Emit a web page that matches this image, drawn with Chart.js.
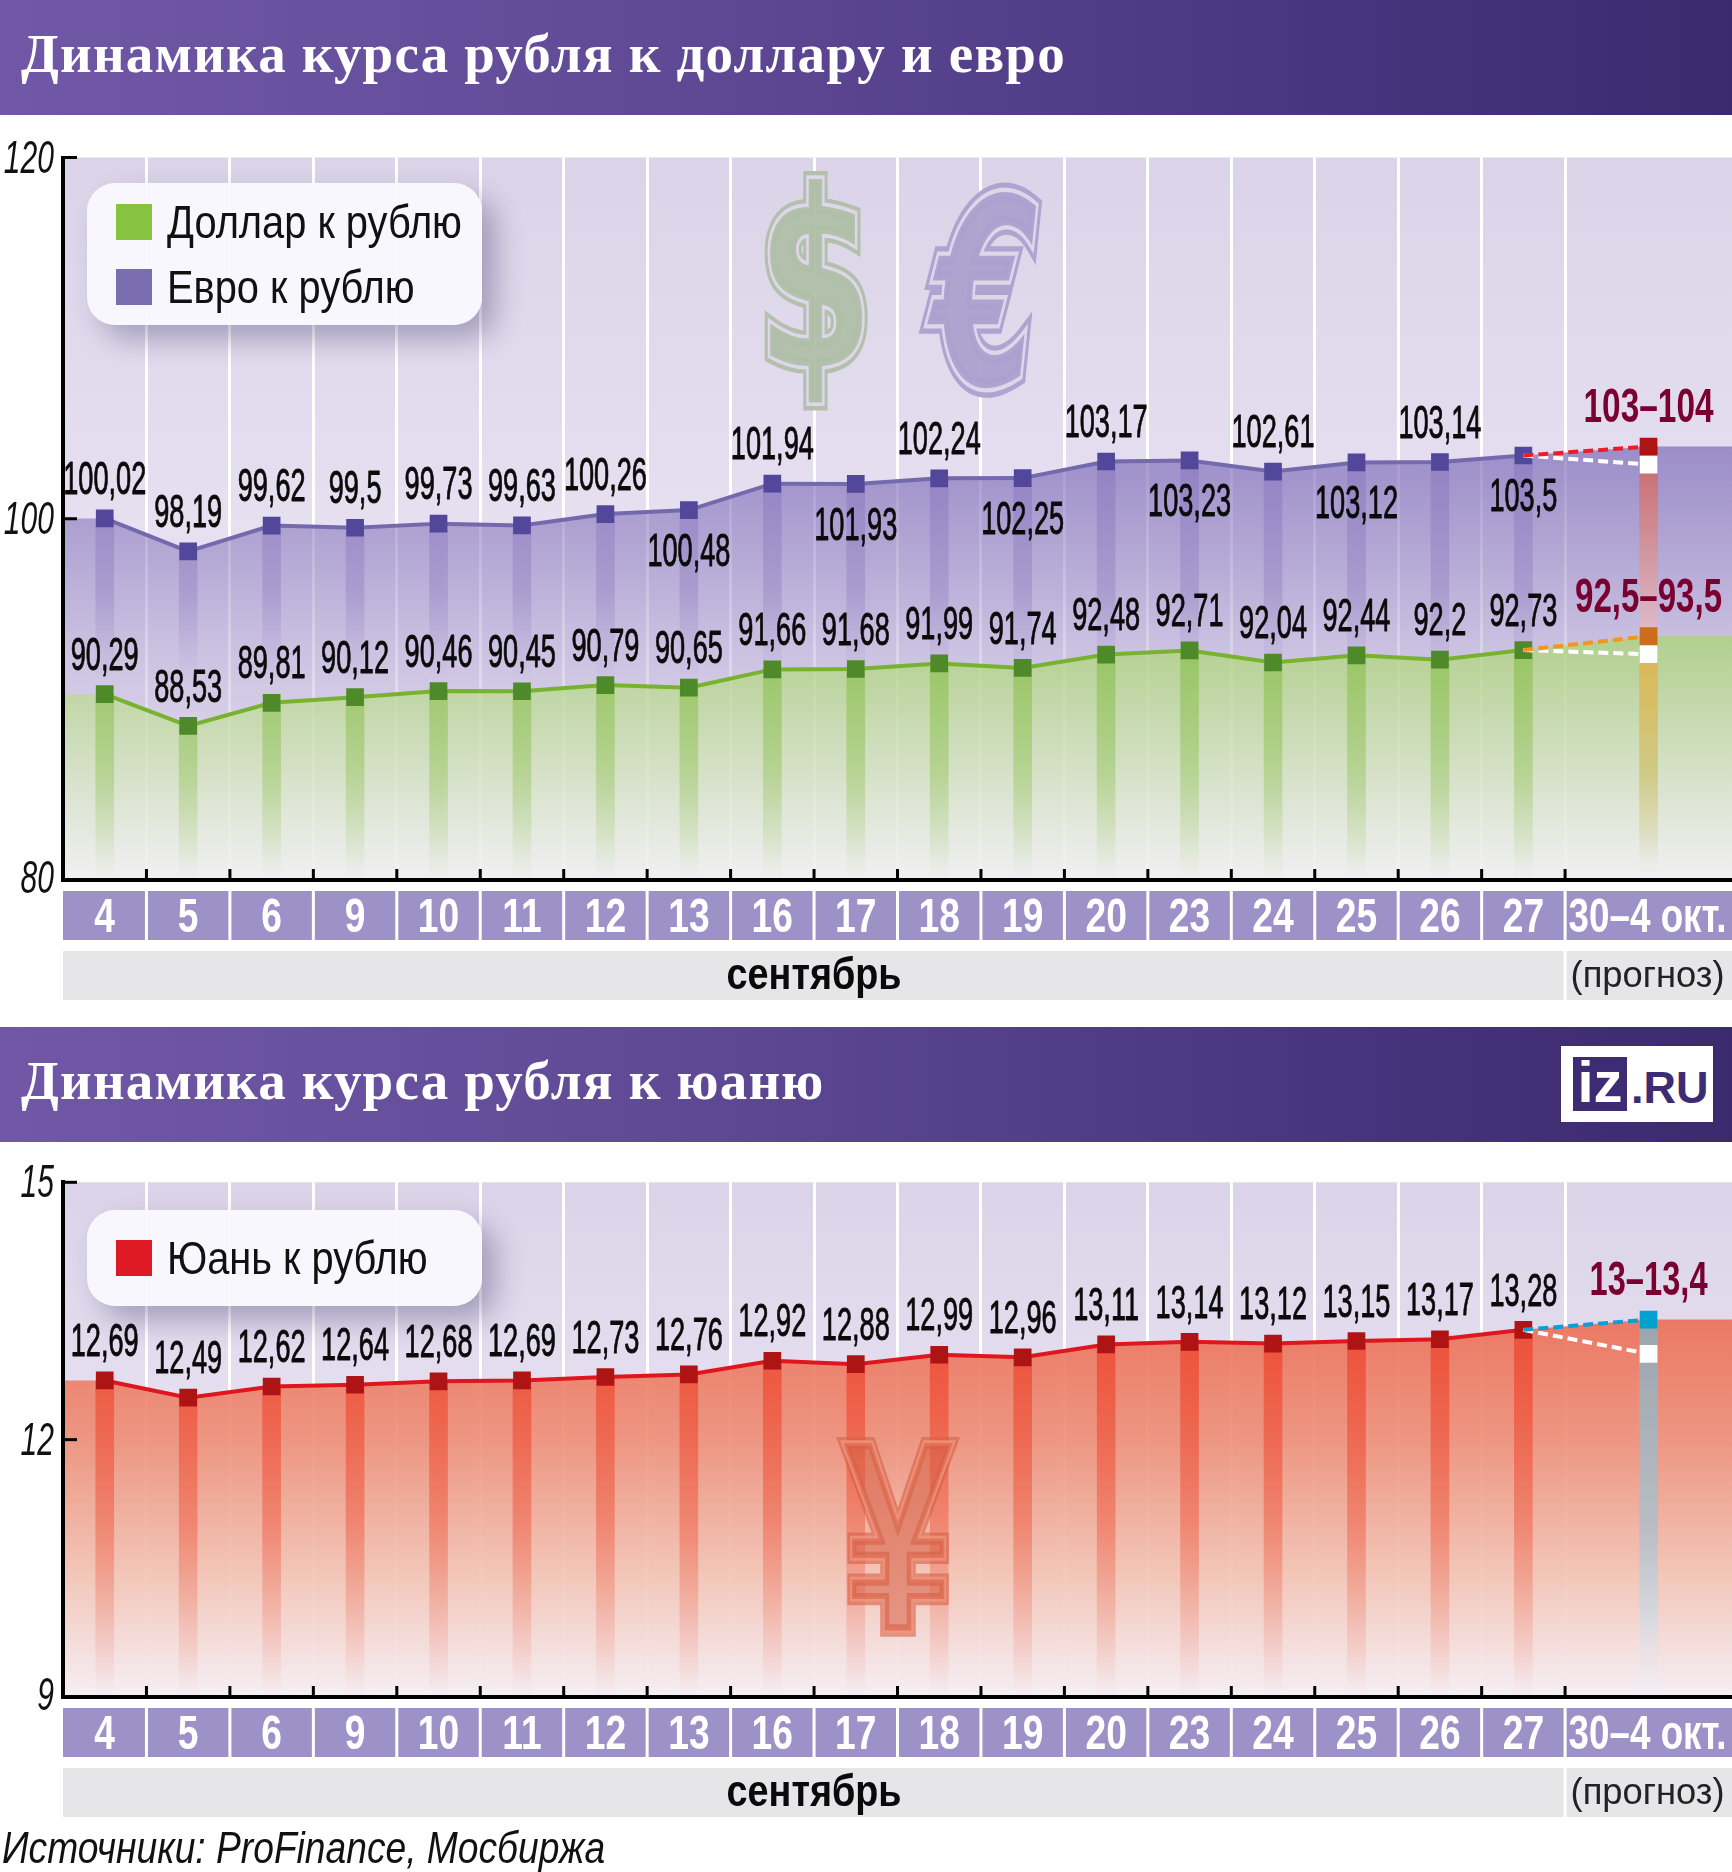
<!DOCTYPE html>
<html lang="ru"><head><meta charset="utf-8">
<script src="https://cdn.jsdelivr.net/npm/chart.js@4/dist/chart.umd.js"></script>
<style>
html,body{margin:0;padding:0;background:#fff;width:1732px;height:1872px;overflow:hidden}
.hdr{position:absolute;left:0;width:1732px;height:115px;background:linear-gradient(90deg,#7058a6 0%,#5f4995 40%,#4a3580 75%,#3b2a6e 100%);color:#fff;font:bold 55px "Liberation Serif",serif;line-height:108px}
.hdr span{position:absolute;left:21px;top:0;white-space:nowrap;letter-spacing:1.2px}
canvas{position:absolute;left:0}
.legend{position:absolute;left:87px;width:395px;background:rgba(249,248,253,.96);border-radius:28px;box-shadow:14px 14px 28px rgba(50,40,90,.33)}
.row{position:absolute;left:29px;height:36px;width:360px}
.sw{position:absolute;left:0;top:0;width:36px;height:36px}
.lt{position:absolute;left:51px;top:-10px;font:46px "Liberation Sans Narrow","Liberation Sans",sans-serif;line-height:56px;white-space:nowrap;color:#111;transform-origin:0 50%;transform:scaleX(.865)}
#src{position:absolute;left:2px;top:1821px;font:italic 44px "Liberation Sans Narrow","Liberation Sans",sans-serif;line-height:54px;white-space:nowrap;color:#111;transform-origin:0 50%;transform:scaleX(.845)}
#logo{position:absolute;left:1561px;top:1046px;width:152px;height:76px;background:#fff}
#logo .sq{position:absolute;left:12px;top:11px;width:54px;height:54px;background:#3d2c73;color:#fff;font:bold 58px "Liberation Sans",sans-serif;line-height:50px;text-align:center;overflow:hidden}
#logo .ru{position:absolute;left:70px;top:12px;color:#3d2c73;font:bold 45px "Liberation Sans",sans-serif;line-height:60px;white-space:nowrap;letter-spacing:0}
</style></head><body>
<div class="hdr" style="top:0"><span>Динамика курса рубля к доллару и евро</span></div>
<div class="hdr" style="top:1027px"><span>Динамика курса рубля к юаню</span></div>
<canvas id="c1" width="1732" height="900" style="top:115px"></canvas>
<canvas id="c2" width="1732" height="690" style="top:1142px"></canvas>
<div class="legend" style="top:183px;height:142px">
 <div class="row" style="top:21px"><div class="sw" style="background:#86c440"></div><div class="lt">Доллар к рублю</div></div>
 <div class="row" style="top:86px"><div class="sw" style="background:#7a6db0"></div><div class="lt">Евро к рублю</div></div>
</div>
<div class="legend" style="top:1210px;height:96px">
 <div class="row" style="top:30px"><div class="sw" style="background:#de1b24"></div><div class="lt">Юань к рублю</div></div>
</div>
<div id="logo"><div class="sq">iz</div><div class="ru">.RU</div></div>
<div id="src">Источники: ProFinance, Мосбиржа</div>
<script>
const categories = ['4','5','6','9','10','11','12','13','16','17','18','19','20','23','24','25','26','27'];
const forecastCategory = '30–4 окт.';
const monthLabel = 'сентябрь';
const forecastNote = '(прогноз)';
const dollar = [90.29,88.53,89.81,90.12,90.46,90.45,90.79,90.65,91.66,91.68,91.99,91.74,92.48,92.71,92.04,92.44,92.2,92.73];
const euro = [100.02,98.19,99.62,99.5,99.73,99.63,100.26,100.48,101.94,101.93,102.24,102.25,103.17,103.23,102.61,103.12,103.14,103.5];
const yuan = [12.69,12.49,12.62,12.64,12.68,12.69,12.73,12.76,12.92,12.88,12.99,12.96,13.11,13.14,13.12,13.15,13.17,13.28];
const euroForecast = [103,104];
const dollarForecast = [92.5,93.5];
const yuanForecast = [13,13.4];
const euroBelow = [7,9,11,13,15,17];
const ticks1 = [80,100,120];
const ticks2 = [9,12,15];

const NARROW='"Liberation Sans Narrow","Liberation Sans",sans-serif';
const pts=a=>a.map((v,i)=>({x:i+.5,y:v}));
const fmt=v=>String(v).replace('.',',');
function grad(stops){return c=>{const {ctx,chartArea:a,scales}=c.chart;if(!a)return 'transparent';
  const g=ctx.createLinearGradient(0,a.top,0,a.bottom);const H=a.bottom-a.top;
  stops.forEach(([v,col])=>g.addColorStop(Math.min(1,Math.max(0,(scales.y.getPixelForValue(v)-a.top)/H)),col));return g;};}
function st(ctx,t,x,y,font,sx,color,align,bold){ctx.save();ctx.font=font;ctx.fillStyle=color;ctx.textAlign=align||'center';ctx.textBaseline='middle';ctx.translate(x,y);ctx.scale(sx,1);
  if(bold){ctx.lineWidth=bold;ctx.strokeStyle=color;ctx.lineJoin='round';ctx.strokeText(t,0,0);}
  ctx.fillText(t,0,0);ctx.restore();}
function widthFit(ctx,t,font,w){ctx.save();ctx.font=font;const m=ctx.measureText(t).width;ctx.restore();return w/m;}
function glyph(ctx,ch,x0,y0,x1,y1,font,fill,outer,inner,lwO,lwI){ctx.save();ctx.font=font;ctx.textAlign='left';ctx.textBaseline='alphabetic';
  const m=ctx.measureText(ch);const gw=m.actualBoundingBoxRight+m.actualBoundingBoxLeft,gh=m.actualBoundingBoxAscent+m.actualBoundingBoxDescent;
  const sx=(x1-x0-lwO)/gw,sy=(y1-y0-lwO)/gh;ctx.translate(x0+lwO/2+m.actualBoundingBoxLeft*sx,y0+lwO/2+m.actualBoundingBoxAscent*sy);ctx.scale(sx,sy);
  ctx.lineJoin='miter';ctx.strokeStyle=outer;ctx.lineWidth=lwO/Math.min(sx,sy);ctx.strokeText(ch,0,0);
  ctx.strokeStyle=inner;ctx.lineWidth=lwI/Math.min(sx,sy);ctx.strokeText(ch,0,0);
  ctx.fillStyle=fill;ctx.fillText(ch,0,0);ctx.restore();}

function chrome(bgStops,opts){return {id:'chrome',
 beforeDraw(chart){const {ctx,chartArea:a,scales:{y}}=chart;ctx.save();ctx.fillStyle=grad(bgStops)({chart});ctx.fillRect(a.left,a.top,a.right-a.left,a.bottom-a.top);ctx.restore();},
 beforeDatasetsDraw(chart){if(opts.under)opts.under(chart);},
 afterDatasetsDraw(chart){const {ctx,chartArea:a,scales:{x,y}}=chart;
  if(opts.over)opts.over(chart);
  // inner ticks
  ctx.save();ctx.strokeStyle='#000';ctx.lineWidth=3;
  for(let i=1;i<=categories.length;i++){const p=x.getPixelForValue(i);ctx.beginPath();ctx.moveTo(p,a.bottom);ctx.lineTo(p,a.bottom-11);ctx.stroke();}
  y.ticks.forEach(t=>{if(t.value===y.min)return;const p=y.getPixelForValue(t.value);ctx.beginPath();ctx.moveTo(a.left,p);ctx.lineTo(a.left+14,p);ctx.stroke();});
  ctx.restore();
  // y tick labels
  y.ticks.forEach(t=>{let p=y.getPixelForValue(t.value);if(t.value===y.min)p-=2;st(ctx,String(t.label),54,p+2,'italic 47px '+NARROW,.64,'#111','right');});
  // data labels
  opts.labels.forEach(l=>{const sx=widthFit(ctx,'100,02','46px '+NARROW,83);
    l.values.forEach((v,i)=>{const below=l.below&&l.below.includes(i);st(ctx,fmt(v),x.getPixelForValue(i+.5),y.getPixelForValue(v)+(below?43:-37),'46px '+NARROW,sx,'#0a0a0a','center',.9);});});
  opts.fc.forEach(f=>{const s=widthFit(ctx,f.text,'bold 49px '+NARROW,f.w);st(ctx,f.text,x.getPixelForValue(19),y.getPixelForValue(f.hi)-38,'bold 49px '+NARROW,s,'#7a0030');});
  // category row
  const top=a.bottom+11,h=49;
  categories.forEach((c,i)=>{const l=x.getPixelForValue(i)+(i?1.5:0),r=x.getPixelForValue(i+1)-1.5;ctx.fillStyle='#9c92c8';ctx.fillRect(l,top,r-l,h);
    st(ctx,c,(x.getPixelForValue(i)+x.getPixelForValue(i+1))/2,top+h/2+3,'bold 49px '+NARROW,.76,'#fff');});
  {const l=x.getPixelForValue(18)+1.5,r=a.right;ctx.fillStyle='#9c92c8';ctx.fillRect(l,top,r-l,h);
    const s=widthFit(ctx,forecastCategory,'bold 49px '+NARROW,158);st(ctx,forecastCategory,x.getPixelForValue(19)-1,top+h/2+3,'bold 49px '+NARROW,s,'#fff');}
  const t2=a.bottom+71,h2=49;
  ctx.fillStyle='#e6e6e8';ctx.fillRect(a.left,t2,x.getPixelForValue(18)-1.5-a.left,h2);ctx.fillRect(x.getPixelForValue(18)+1.5,t2,a.right-x.getPixelForValue(18)-1.5,h2);
  {const s=widthFit(ctx,monthLabel,'bold 44px '+NARROW,175);st(ctx,monthLabel,x.getPixelForValue(9),t2+h2/2+1,'bold 44px '+NARROW,s,'#0a0a0a');
   const n=widthFit(ctx,forecastNote,'37px '+NARROW,154);st(ctx,forecastNote,x.getPixelForValue(19)-1,t2+h2/2+1,'37px '+NARROW,n,'#222');}
 }};}

const M=12.5; // marker radius
function lineDS(values,color,marker){return {type:'line',data:pts(values),borderColor:color,borderWidth:4,pointStyle:'rect',pointRadius:M,pointBackgroundColor:marker,pointBorderWidth:0,fill:false,order:3,tension:0};}
function areaDS(values,hi,stops,order){return {type:'line',data:[{x:0,y:values[0]},...pts(values),{x:19,y:hi},{x:20,y:hi}],borderWidth:0,pointRadius:0,fill:'start',backgroundColor:grad(stops),order,tension:0};}
function barDS(data,stops,order){return {type:'bar',data,backgroundColor:grad(stops),barThickness:18,grouped:false,order,borderWidth:0};}
function dashDS(last,val,color,marker,order){return {type:'line',data:[{x:17.5,y:last},{x:19,y:val}],borderColor:color,borderWidth:4,borderDash:[10,5],pointStyle:'rect',pointRadius:[0,M],pointBackgroundColor:marker,pointBorderWidth:0,fill:false,order,tension:0};}

function makeChart(id,datasets,yMin,yMax,step,padTop,plugin){
 return new Chart(document.getElementById(id),{type:'line',data:{datasets},plugins:[plugin],options:{
  responsive:false,animation:false,devicePixelRatio:1,events:[],
  layout:{autoPadding:false,padding:{top:padTop,left:0,right:0,bottom:0}},
  plugins:{legend:{display:false},tooltip:{enabled:false},title:{display:false}},
  scales:{
   x:{type:'linear',min:0,max:20,offset:false,afterFit(s){s.height=135;},
      grid:{offset:false,drawTicks:false,lineWidth:3,color:c=>(c.tick&&c.tick.value>=1&&c.tick.value<=18)?'#ffffff':'rgba(0,0,0,0)'},
      border:{display:true,color:'#000',width:4,z:2},
      ticks:{display:false,stepSize:1,autoSkip:false}},
   y:{type:'linear',min:yMin,max:yMax,afterFit(s){s.width=63;},
      grid:{display:false,drawTicks:false},border:{display:true,color:'#000',width:4,z:2},
      ticks:{display:false,stepSize:step}}
  }}});
}

const bg1=[[120,'#dbd4e8'],[104,'#e3ddef'],[90,'#ece7f3'],[80,'#f4f1f6']];
const bg2=[[15,'#dbd4e8'],[13,'#e2dcee'],[9,'#f5f0f6']];

makeChart('c1',[
 lineDS(dollar,'#78b22e','#4f8a2a'),
 lineDS(euro,'#7569ae','#52479b'),
 dashDS(dollar[17],dollarForecast[0],'#ffffff','#ffffff',2),
 dashDS(dollar[17],dollarForecast[1],'#f7941e','#cc6d1b',1),
 dashDS(euro[17],euroForecast[0],'#ffffff','#ffffff',2),
 dashDS(euro[17],euroForecast[1],'#ee1c25','#af1414',1),
 barDS(pts(dollar),[[93,'rgba(135,190,70,.62)'],[86,'rgba(135,190,70,.4)'],[80,'rgba(135,190,70,0)']],5),
 barDS([{x:19,y:dollarForecast[1]}],[[93.5,'#deb44f'],[86,'#cfc983'],[82,'#e0e2cc'],[80,'rgba(240,240,240,0)']],5),
 areaDS(dollar,dollarForecast[1],[[93.5,'rgba(170,213,115,.75)'],[80,'rgba(241,239,243,.75)']],6),
 barDS(pts(euro),[[104,'rgba(110,90,175,.28)'],[96,'rgba(110,90,175,.24)'],[91,'rgba(110,90,175,0)']],7),
 barDS([{x:19,y:euroForecast[1]}],[[104,'#c8656a'],[99,'#d08f96'],[94,'#dcb9c8'],[91,'rgba(220,185,200,0)']],7),
 areaDS(euro,euroForecast[1],[[104,'rgba(128,110,185,.72)'],[93,'rgba(128,110,185,.3)'],[80,'rgba(128,110,185,0)']],8)
],80,120,20,42.5,chrome(bg1,{
 under(chart){const c=chart.ctx;const oy=-115;
   glyph(c,'$',764,173+oy,868,408+oy,'bold 200px "DejaVu Sans"','rgba(176,191,168,.95)','rgba(176,191,168,.95)','#ded7ea',11,5);
   glyph(c,'€',921,187+oy,1042,394+oy,'italic bold 200px "DejaVu Sans"','rgba(172,160,207,.95)','rgba(172,160,207,.95)','#ded7ea',11,5);},
 labels:[{values:dollar},{values:euro,below:euroBelow}],
 fc:[{text:euroForecast.join('–'),hi:euroForecast[1],w:130},{text:dollarForecast.map(fmt).join('–'),hi:dollarForecast[1],w:147}]
}));

makeChart('c2',[
 lineDS(yuan,'#e0161f','#af1414'),
 dashDS(yuan[17],yuanForecast[0],'#ffffff','#ffffff',2),
 dashDS(yuan[17],yuanForecast[1],'#0aa0d4','#00a0d0',1),
 barDS(pts(yuan),[[13.3,'rgba(238,72,48,.85)'],[11,'rgba(238,90,65,.5)'],[9,'rgba(238,110,85,0)']],5),
 barDS([{x:19,y:yuanForecast[1]}],[[13.4,'#9aa5ad'],[11,'#b9bcc3'],[9.9,'#d9d9e0'],[9,'rgba(240,240,245,0)']],5),
 areaDS(yuan,yuanForecast[1],[[13.4,'rgba(236,112,88,.92)'],[12,'rgba(238,142,118,.9)'],[10.5,'rgba(243,192,175,.9)'],[9,'rgba(245,239,245,.9)']],6)
],9,15,3,40.3,chrome(bg2,{
 over(chart){const c=chart.ctx;const oy=-1142;
   glyph(c,'¥',838,1438+oy,958,1635+oy,'bold 200px "Liberation Sans"','rgba(215,95,70,.55)','rgba(215,95,70,.6)','rgba(240,150,125,.8)',9,4);},
 labels:[{values:yuan}],
 fc:[{text:yuanForecast.map(fmt).join('–'),hi:yuanForecast[1],w:118}]
}));
</script>
</body></html>
